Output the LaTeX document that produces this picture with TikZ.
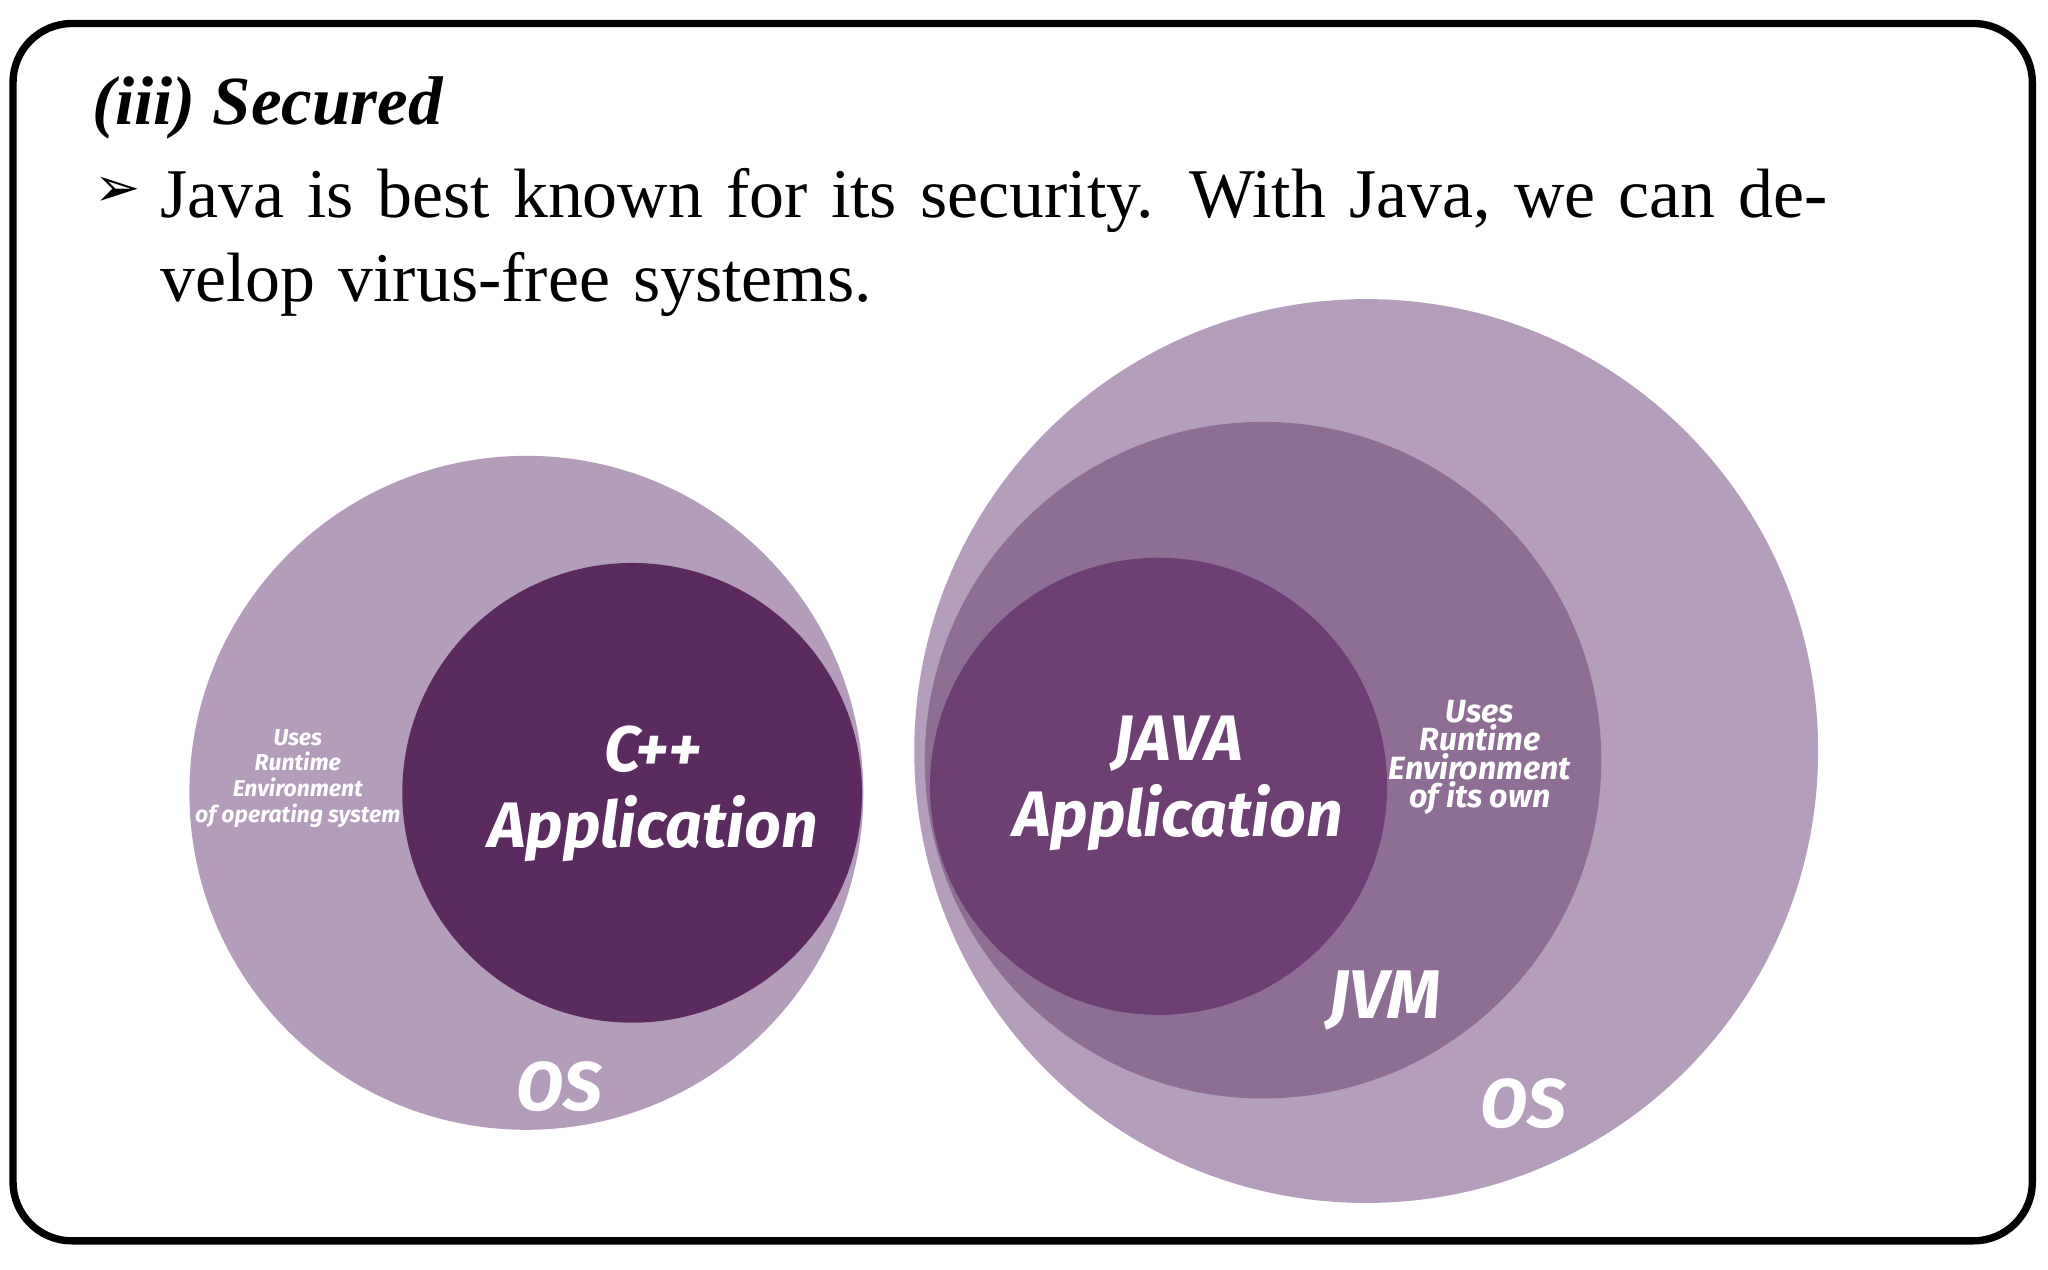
\documentclass[tikz,border=0pt]{standalone}
\usepackage{fontspec}
\setmainfont{Liberation Serif}
\newfontfamily\lblfont{Fira Sans}
\newfontfamily\symfont{DejaVu Sans}
\begin{document}
\begin{tikzpicture}[x=0.01cm,y=-0.01cm,
  lbl/.style={text=white,font=\lblfont\bfseries\itshape,align=center,inner sep=0pt},
  small/.style={text=white,font=\lblfont\bfseries\itshape\fontsize{6}{6}\selectfont,align=center,inner sep=0pt}]
\useasboundingbox (0,0) rectangle (1568,972);
\fill[white] (0,0) rectangle (1568,972);
\draw[line width=1.6pt,rounded corners=0.45cm] (10,18) rectangle (1556,950);
\node[anchor=base west,inner sep=0pt,font=\fontsize{15}{18}\selectfont\bfseries\itshape] (title) at (70,95) {(iii) Secured};
\node[anchor=base west,inner sep=0pt,font=\symfont\fontsize{12}{14}\selectfont] (bul) at (72,158) {➢};
\node[anchor=north west,inner sep=0pt,text width=13.7cm,align=left,font=\fontsize{15.2}{18.4}\selectfont] (txt) at (122,128) {Java is best known for its security. With Java, we can develop virus-free systems.};
% left
\fill[fill={rgb,255:red,179;green,157;blue,186}] (403,607) circle (258);
\fill[fill={rgb,255:red,91;green,42;blue,94}] (484,607) circle (176);
% right
\fill[fill={rgb,255:red,180;green,158;blue,187}] (1046,575) circle (346);
\fill[fill={rgb,255:red,142;green,110;blue,148}] (967,582) circle (259);
\fill[fill={rgb,255:red,110;green,63;blue,114}] (887,602) circle (175);
\node[lbl,font=\lblfont\bfseries\itshape\fontsize{14}{16.5}\selectfont] (cpp) at (500,608) {C++\\Application};
\node[lbl,font=\lblfont\bfseries\itshape\fontsize{14}{16.5}\selectfont] (java) at (902,600) {JAVA\\Application};
\node[lbl,font=\lblfont\bfseries\itshape\fontsize{15}{18}\selectfont] (jvm) at (1060,766) {JVM};
\node[lbl,font=\lblfont\bfseries\itshape\fontsize{15}{18}\selectfont] (os1) at (428,832) {OS};
\node[lbl,font=\lblfont\bfseries\itshape\fontsize{15}{18}\selectfont] (os2) at (1166,845) {OS};
\node[small,font=\lblfont\bfseries\itshape\fontsize{5}{5.6}\selectfont] (u1) at (228,596) {Uses\\Runtime\\Environment\\of operating system};
\node[small,font=\lblfont\bfseries\itshape\fontsize{7}{6.2}\selectfont] (u2) at (1133,580) {Uses\\Runtime\\Environment\\of its own};
\end{tikzpicture}
\end{document}
